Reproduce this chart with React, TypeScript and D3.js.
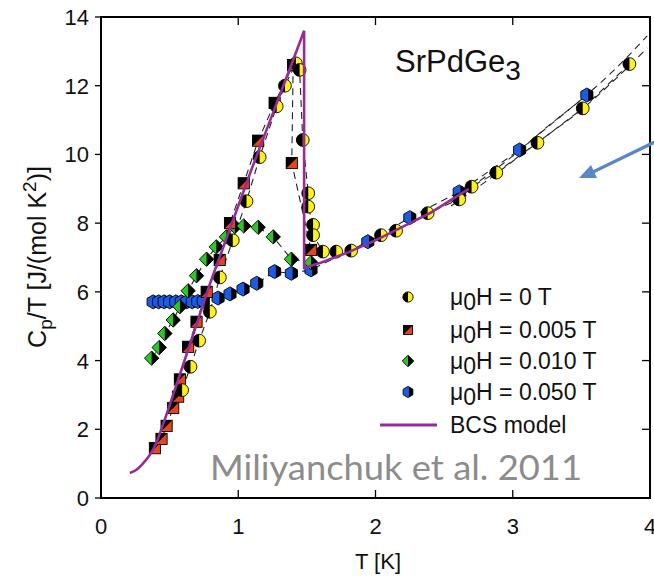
import * as d3 from "d3";

const W = 654;
const H = 578;
const MARGIN = { top: 17, right: 4, bottom: 80, left: 101 };

const xTicks = [0, 1, 2, 3, 4];
const yTicks = [0, 2, 4, 6, 8, 10, 12, 14];

// [T (K), Cp/T (J/(mol K^2))]
const field0: [number, number][] = [
  [0.591, 3.14], [0.652, 3.82], [0.715, 4.58], [0.793, 5.42], [0.866, 6.42],
  [0.96, 7.5], [1.06, 8.64], [1.156, 9.92], [1.28, 11.4], [1.34, 12.0],
  [1.42, 12.65], [1.447, 12.46], [1.47, 10.42], [1.51, 8.87], [1.51, 8.48],
  [1.545, 7.95], [1.545, 7.65], [1.617, 7.17], [1.714, 7.17], [1.823, 7.2],
  [2.04, 7.65], [2.15, 7.78], [2.38, 8.29], [2.61, 8.69], [2.7, 9.06],
  [2.88, 9.47], [3.18, 10.34], [3.51, 11.34], [3.85, 12.63],
];

const field005: [number, number][] = [
  [0.393, 1.45], [0.441, 1.72], [0.478, 2.1], [0.526, 2.62], [0.562, 2.95],
  [0.575, 3.45], [0.635, 4.4], [0.696, 5.13], [0.77, 6.0], [0.865, 6.93],
  [0.94, 8.0], [1.04, 9.16], [1.145, 10.4], [1.265, 11.5], [1.4, 12.6],
  [1.39, 9.75], [1.53, 7.22],
];

const field010: [number, number][] = [
  [0.369, 4.07], [0.424, 4.38], [0.465, 4.79], [0.526, 5.18], [0.575, 5.57],
  [0.635, 6.03], [0.696, 6.47], [0.769, 6.95], [0.84, 7.31], [0.914, 7.6],
  [0.975, 7.9], [1.04, 7.92], [1.145, 7.88], [1.255, 7.6], [1.387, 6.95],
  [1.53, 6.85],
];

const field050: [number, number][] = [
  [0.38, 5.71], [0.42, 5.71], [0.46, 5.71], [0.5, 5.71], [0.545, 5.71],
  [0.585, 5.71], [0.625, 5.71], [0.665, 5.71], [0.705, 5.72], [0.745, 5.73],
  [0.853, 5.82], [0.94, 5.94], [1.035, 6.08], [1.135, 6.25], [1.265, 6.59],
  [1.387, 6.54], [1.53, 6.64], [1.944, 7.46], [2.25, 8.16], [2.61, 8.91],
  [3.05, 10.13], [3.54, 11.73],
];

const bcsBelow: [number, number][] = [
  [0.21, 0.73], [0.25, 0.8], [0.3, 0.98], [0.35, 1.22], [0.4, 1.58],
  [0.45, 2.12], [0.5, 2.7], [0.6, 3.9], [0.7, 5.1], [0.8, 6.3], [0.9, 7.4],
  [1.0, 8.5], [1.1, 9.6], [1.2, 10.65], [1.3, 11.7], [1.4, 12.75], [1.48, 13.6],
];
const bcsAbove: [number, number][] = [
  [1.48, 13.6], [1.48, 6.7], [1.6, 6.85], [1.8, 7.15], [2.0, 7.5],
  [2.2, 7.9], [2.4, 8.3], [2.68, 9.0],
];

const fitUpper: [number, number][] = [
  [2.55, 8.6], [2.8, 9.35], [3.0, 9.95], [3.25, 10.8], [3.5, 11.6], [3.75, 12.5], [3.98, 13.45],
];
const fitLower: [number, number][] = [
  [2.55, 8.5], [2.8, 9.2], [3.0, 9.8], [3.25, 10.55], [3.5, 11.3], [3.75, 12.2], [3.98, 13.1],
];

const legendFields = ["0 T", "0.005 T", "0.010 T", "0.050 T"];

const YELLOW = "#fff21a";
const RED = "#e8441c";
const GREEN = "#2bc824";
const BLUE = "#1a5ce6";
const PURPLE = "#962c96";
const FONT = "'Liberation Sans', Arial, Helvetica, sans-serif";

type Kind = "circle" | "square" | "diamond" | "hex";

function Marker({ kind, x, y, s = 1 }: { kind: Kind; x: number; y: number; s?: number }) {
  const sw = 0.9;
  if (kind === "circle") {
    const r = 6.4 * s;
    return (
      <g transform={`translate(${x},${y})`}>
        <circle r={r} fill={YELLOW} />
        <path d={`M0,${-r}A${r},${r} 0 0 0 0,${r}Z`} fill="#000" />
        <circle r={r} fill="none" stroke="#000" strokeWidth={sw} />
      </g>
    );
  }
  if (kind === "square") {
    const h = 5.6 * s;
    return (
      <g transform={`translate(${x},${y})`}>
        <rect x={-h} y={-h} width={2 * h} height={2 * h} fill={RED} />
        <path d={`M${-h},${-h}L${h},${-h}L${-h},${h}Z`} fill="#000" />
        <rect x={-h} y={-h} width={2 * h} height={2 * h} fill="none" stroke="#000" strokeWidth={sw} />
      </g>
    );
  }
  if (kind === "diamond") {
    const d = 7.2 * s;
    const full = `M0,${-d}L${d},0L0,${d}L${-d},0Z`;
    return (
      <g transform={`translate(${x},${y})`}>
        <path d={full} fill={GREEN} />
        <path d={`M0,${-d}L${d},0L0,${d}Z`} fill="#000" />
        <path d={full} fill="none" stroke="#000" strokeWidth={sw} />
      </g>
    );
  }
  const r = 7 * s;
  const c = r * Math.cos(Math.PI / 6);
  const full = `M0,${-r}L${c},${-r / 2}L${c},${r / 2}L0,${r}L${-c},${r / 2}L${-c},${-r / 2}Z`;
  return (
    <g transform={`translate(${x},${y})`}>
      <path d={full} fill={BLUE} />
      <path d={`M${c * 0.2},${-r * 0.9}L${c},${-r / 2}L${c},${r / 2}L${c * 0.2},${r * 0.9}Z`} fill="#000" />
      <path d={full} fill="none" stroke="#000" strokeWidth={sw} />
    </g>
  );
}

export default function App() {
  const x = d3.scaleLinear().domain([0, 4]).range([MARGIN.left, W - MARGIN.right]);
  const y = d3.scaleLinear().domain([0, 14]).range([H - MARGIN.bottom, MARGIN.top]);

  const line = d3.line<[number, number]>().x((d) => x(d[0])).y((d) => y(d[1]));
  const smooth = d3
    .line<[number, number]>()
    .x((d) => x(d[0]))
    .y((d) => y(d[1]))
    .curve(d3.curveMonotoneX);

  const series: { kind: Kind; data: [number, number][] }[] = [
    { kind: "hex", data: field050 },
    { kind: "diamond", data: field010 },
    { kind: "square", data: field005 },
    { kind: "circle", data: field0 },
  ];

  const x0 = MARGIN.left;
  const x1 = W - MARGIN.right;
  const y0 = H - MARGIN.bottom;
  const y1 = MARGIN.top;

  const legendY = [297, 330, 361, 392];
  const legendKinds: Kind[] = ["circle", "square", "diamond", "hex"];

  return (
    <svg
      width={W}
      height={H}
      style={{ position: "absolute", left: 0, top: 0, background: "#fff" }}
      fontFamily={FONT}
    >
      {/* dashed guides through the data */}
      <g fill="none" stroke="#222" strokeWidth={1.1} strokeDasharray="7,5">
        {series.map((s, i) => (
          <path key={i} d={line(s.data) ?? ""} />
        ))}
        <path d={smooth(fitUpper) ?? ""} />
        <path d={smooth(fitLower) ?? ""} />
      </g>

      {series.map((s, i) => (
        <g key={i}>
          {s.data.map((d, j) => (
            <Marker key={j} kind={s.kind} x={x(d[0])} y={y(d[1])} />
          ))}
        </g>
      ))}

      {/* BCS model */}
      <path d={smooth(bcsBelow) ?? ""} fill="none" stroke={PURPLE} strokeWidth={2.6} />
      <path d={line(bcsAbove) ?? ""} fill="none" stroke={PURPLE} strokeWidth={2.6} />

      {/* frame */}
      <rect x={x0} y={y1} width={x1 - x0} height={y0 - y1} fill="none" stroke="#000" strokeWidth={2} />

      {/* ticks */}
      <g stroke="#000" strokeWidth={1.3}>
        {xTicks.map((t) => (
          <g key={t}>
            <line x1={x(t)} x2={x(t)} y1={y0} y2={y0 - 8} />
            <line x1={x(t)} x2={x(t)} y1={y1} y2={y1 + 8} />
          </g>
        ))}
        {yTicks.map((t) => (
          <g key={t}>
            <line x1={x0} x2={x0 - 6} y1={y(t)} y2={y(t)} />
            <line x1={x1} x2={x1 - 8} y1={y(t)} y2={y(t)} />
          </g>
        ))}
      </g>

      <g fontSize={22} fill="#111">
        {xTicks.map((t) => (
          <text key={t} x={x(t)} y={534} textAnchor="middle">
            {t}
          </text>
        ))}
        {yTicks.map((t) => (
          <text key={t} x={89} y={y(t) + 8} textAnchor="end">
            {t}
          </text>
        ))}
      </g>

      <text x={378} y={569} textAnchor="middle" fontSize={22} fill="#111">
        T [K]
      </text>
      <text transform="translate(46,257) rotate(-90)" textAnchor="middle" fontSize={25} fill="#111">
        C<tspan dy={6} fontSize={19}>p</tspan>
        <tspan dy={-6}>/T [J/(mol K</tspan>
        <tspan dy={-10} fontSize={19}>2</tspan>
        <tspan dy={10}>)]</tspan>
      </text>

      <text x={395} y={72} fontSize={31} fill="#111">
        SrPdGe<tspan dy={8} fontSize={28}>3</tspan>
      </text>

      {/* legend */}
      {legendFields.map((f, i) => (
        <g key={f}>
          <Marker kind={legendKinds[i]} x={408} y={legendY[i]} s={0.8} />
          <text x={450} y={legendY[i] + 8} fontSize={23} fill="#111">
            μ<tspan dy={5}>0</tspan>
            <tspan dy={-5}>H = {f}</tspan>
          </text>
        </g>
      ))}
      <line x1={380} x2={437} y1={425} y2={425} stroke={PURPLE} strokeWidth={3} />
      <text x={450} y={433} fontSize={23} fill="#111">
        BCS model
      </text>

      <text
        x={210}
        y={480}
        fontSize={35}
        fill="#8c8c8c"
        fontFamily="Lato, 'Open Sans', sans-serif"
        textLength={372}
        lengthAdjust="spacingAndGlyphs"
      >
        Miliyanchuk et al. 2011
      </text>

      {/* annotation arrow */}
      <line x1={700} y1={120} x2={593} y2={172} stroke="#5a88c6" strokeWidth={3.2} />
      <path d="M579,178 L591,165 L597,178 Z" fill="#5a88c6" />
    </svg>
  );
}
